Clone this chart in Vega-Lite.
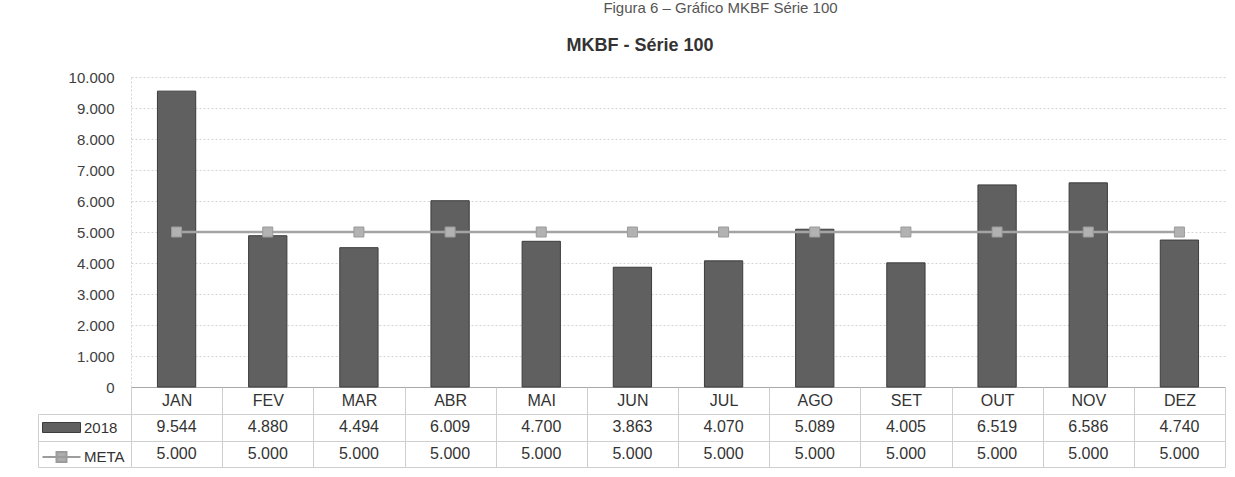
{
  "$schema": "https://vega.github.io/schema/vega-lite/v6.json",
  "background": "white",
  "padding": {"left": 37, "top": 1, "right": 5, "bottom": 2},
  "config": {
    "locale": {"number": {"decimal": ",", "thousands": ".", "grouping": [3], "currency": ["R$", ""]}},
    "font": "Liberation Sans",
    "view": {"stroke": null},
    "axis": {"labelFont": "Liberation Sans", "labelColor": "#404040"}
  },
  "title": {
    "text": "Figura 6 – Gráfico MKBF Série 100",
    "fontSize": 15,
    "fontWeight": "normal",
    "color": "#555555",
    "anchor": "middle",
    "dx": 89,
    "offset": 21
  },
  "datasets": {
    "mkbf": [
      {"mes": "JAN", "serie": "2018", "valor": 9544},
      {"mes": "FEV", "serie": "2018", "valor": 4880},
      {"mes": "MAR", "serie": "2018", "valor": 4494},
      {"mes": "ABR", "serie": "2018", "valor": 6009},
      {"mes": "MAI", "serie": "2018", "valor": 4700},
      {"mes": "JUN", "serie": "2018", "valor": 3863},
      {"mes": "JUL", "serie": "2018", "valor": 4070},
      {"mes": "AGO", "serie": "2018", "valor": 5089},
      {"mes": "SET", "serie": "2018", "valor": 4005},
      {"mes": "OUT", "serie": "2018", "valor": 6519},
      {"mes": "NOV", "serie": "2018", "valor": 6586},
      {"mes": "DEZ", "serie": "2018", "valor": 4740},
      {"mes": "JAN", "serie": "META", "valor": 5000},
      {"mes": "FEV", "serie": "META", "valor": 5000},
      {"mes": "MAR", "serie": "META", "valor": 5000},
      {"mes": "ABR", "serie": "META", "valor": 5000},
      {"mes": "MAI", "serie": "META", "valor": 5000},
      {"mes": "JUN", "serie": "META", "valor": 5000},
      {"mes": "JUL", "serie": "META", "valor": 5000},
      {"mes": "AGO", "serie": "META", "valor": 5000},
      {"mes": "SET", "serie": "META", "valor": 5000},
      {"mes": "OUT", "serie": "META", "valor": 5000},
      {"mes": "NOV", "serie": "META", "valor": 5000},
      {"mes": "DEZ", "serie": "META", "valor": 5000}
    ]
  },
  "vconcat": [
    {
      "width": 1094,
      "height": 310,
      "title": {"text": "MKBF - Série 100", "fontSize": 18, "fontWeight": "bold", "color": "#333333", "anchor": "middle", "dx": -38, "offset": 15},
      "data": {"name": "mkbf"},
      "encoding": {
        "x": {
          "field": "mes", "type": "nominal",
          "sort": ["JAN","FEV","MAR","ABR","MAI","JUN","JUL","AGO","SET","OUT","NOV","DEZ"],
          "scale": {"paddingInner": 0.58, "paddingOuter": 0.29},
          "axis": {"title": null, "labels": false, "ticks": false, "domain": true, "domainColor": "#a8a8a8", "domainWidth": 1, "grid": false}
        },
        "y": {
          "field": "valor", "type": "quantitative",
          "scale": {"domain": [0, 10000]},
          "axis": {
            "title": null, "values": [0,1000,2000,3000,4000,5000,6000,7000,8000,9000,10000],
            "format": ",.0f", "labelFontSize": 15, "labelPadding": 17, "ticks": false,
            "domain": true, "domainColor": "#d4d4d4", "domainDash": [2, 2],
            "grid": true, "gridColor": "#d4d4d4", "gridDash": [2, 2], "gridWidth": 1
          }
        }
      },
      "layer": [
        {
          "transform": [{"filter": "datum.serie === '2018'"}],
          "mark": {"type": "bar", "stroke": "#3c3c3c", "strokeWidth": 1},
          "encoding": {
            "fill": {
              "field": "serie", "type": "nominal",
              "scale": {"domain": ["2018", "META"], "range": ["#606060", "#adadad"]},
              "legend": {
                "title": null, "orient": "none", "legendX": -77, "legendY": 343,
                "padding": 0, "symbolSize": 100, "labelOffset": 15, "labelFontSize": 15,
                "labelColor": "#333333", "rowPadding": 11.5, "symbolStrokeWidth": 1,
                "encoding": {
                  "symbols": {
                    "shape": {"value": {"expr": "datum.value === '2018' ? 'M-3.8,-1H3.8V1H-3.8Z' : 'M-3.8,0H3.8M-1,-1H1V1H-1Z'"}},
                    "stroke": {"value": {"expr": "datum.value === '2018' ? '#3c3c3c' : '#9c9c9c'"}},
                    "strokeWidth": {"value": {"expr": "datum.value === '2018' ? 1 : 2"}}
                  }
                }
              }
            }
          }
        },
        {
          "transform": [{"filter": "datum.serie === 'META'"}],
          "mark": {"type": "line", "color": "#a4a4a4", "strokeWidth": 2.5},
          "encoding": {}
        },
        {
          "transform": [{"filter": "datum.serie === 'META'"}],
          "mark": {"type": "point", "shape": "square", "filled": true, "fill": "#b2b2b2", "stroke": "#9a9a9a", "strokeWidth": 1, "size": 100, "opacity": 1},
          "encoding": {}
        }
      ]
    },
    {
      "width": 1094,
      "height": 53,
      "data": {"name": "mkbf"},
      "mark": {"type": "text", "fontSize": 16, "color": "#333333", "align": "center", "baseline": "middle", "font": "Liberation Sans"},
      "encoding": {
        "x": {
          "field": "mes", "type": "nominal",
          "sort": ["JAN","FEV","MAR","ABR","MAI","JUN","JUL","AGO","SET","OUT","NOV","DEZ"],
          "scale": {"padding": 0},
          "axis": {
            "orient": "top", "title": null, "labelAngle": 0, "labelFontSize": 16, "labelColor": "#333333",
            "labelBaseline": "middle", "labelPadding": -13.5,
            "ticks": true, "tickSize": 27, "tickBand": "extent", "tickColor": "#cfcfcf",
            "domain": false, "grid": true, "gridColor": "#cfcfcf"
          }
        },
        "y": {
          "field": "serie", "type": "nominal",
          "scale": {"domain": ["2018", "META"], "padding": 0},
          "axis": {
            "title": null, "labels": false, "offset": 93,
            "domain": true, "domainColor": "#cfcfcf",
            "ticks": true, "tickSize": -93, "tickBand": "extent", "tickColor": "#cfcfcf",
            "grid": true, "gridColor": "#cfcfcf"
          }
        },
        "text": {"field": "valor", "type": "quantitative", "format": ",.0f"}
      }
    }
  ],
  "bounds": "flush",
  "spacing": 27,
  "resolve": {"scale": {"x": "independent", "y": "independent", "color": "independent"}}
}
